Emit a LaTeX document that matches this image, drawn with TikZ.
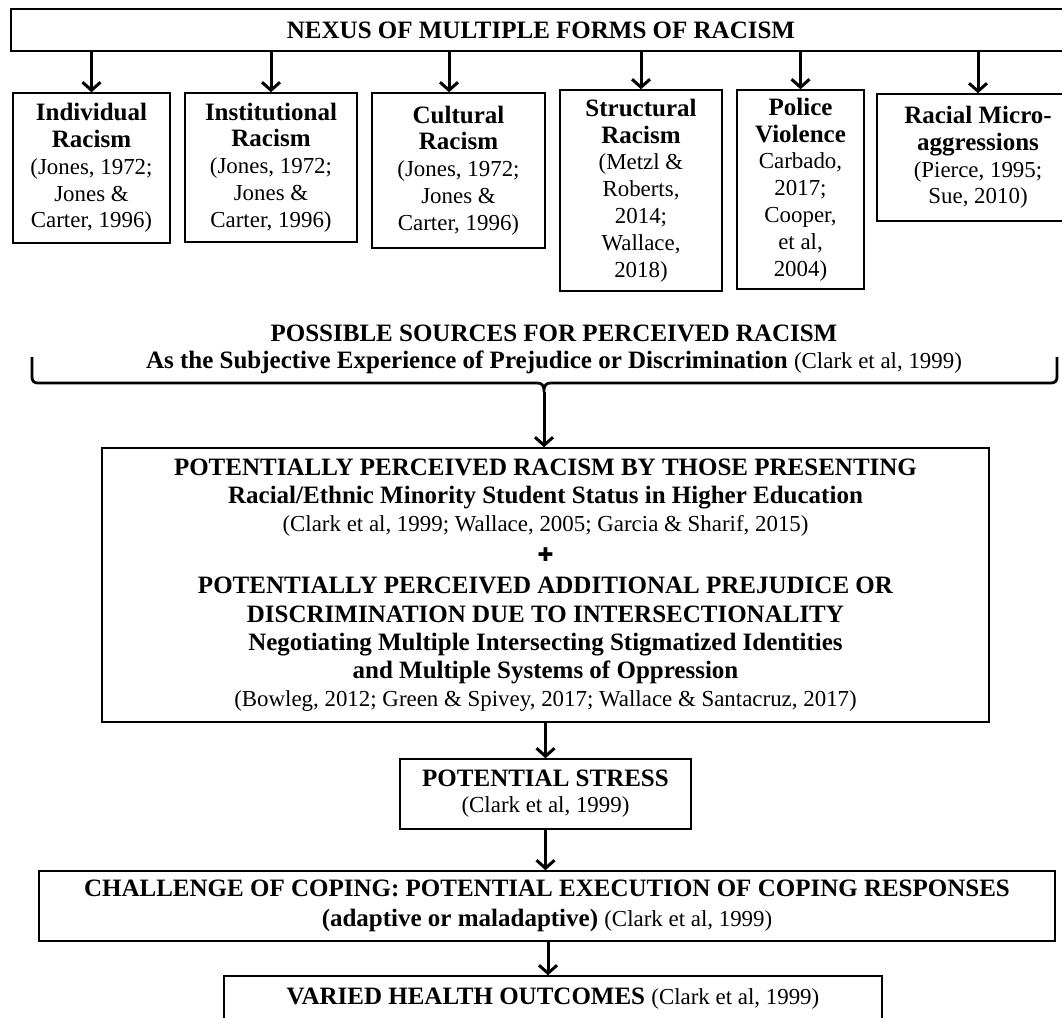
\documentclass[tikz,border=0pt]{standalone}
\usepackage{fontspec}
\setmainfont{Liberation Serif}
\newfontfamily\symf{DejaVu Sans}
\usetikzlibrary{arrows.meta}
\newcommand{\headf}{\fontsize{25}{30}\selectfont\bfseries}
\newcommand{\citef}{\fontsize{22.9}{27}\selectfont\mdseries}
\tikzset{stage/.style={draw,line width=1.5pt,align=center,inner sep=0pt,font=\fontsize{23}{26.8}\selectfont},
         flow/.style={-{Straight Barb[length=8pt,width=18pt]},line width=3pt}
}

\begin{document}
\begin{tikzpicture}[x=1pt,y=1pt,yscale=-1,xscale=1]
\useasboundingbox (0,0) rectangle (1062,1017);

%Flowchart: Process
\node[stage,minimum width=1060,minimum height=42] (nexus) at (541,30) {\headf NEXUS OF MULTIPLE FORMS OF RACISM};
%Flowchart: Process
\node[stage,minimum width=157,minimum height=150] (ind) at (91.5,168) {\headf Individual\\ \headf Racism\\ \citef (Jones, 1972;\\ \citef Jones \&\\ \citef Carter, 1996)};
%Flowchart: Process
\node[stage,minimum width=172,minimum height=149] (inst) at (271,167.5) {\headf Institutional\\ \headf Racism\\ \citef (Jones, 1972;\\ \citef Jones \&\\ \citef Carter, 1996)};
%Flowchart: Process
\node[stage,minimum width=173,minimum height=155] (cul) at (458.5,170.5) {\headf Cultural\\ \headf Racism\\ \citef (Jones, 1972;\\ \citef Jones \&\\ \citef Carter, 1996)};
%Flowchart: Process
\node[stage,minimum width=162,minimum height=201] (str) at (641,190.5) {\headf Structural\\ \headf Racism\\ \citef (Metzl \&\\ \citef Roberts,\\ \citef 2014;\\ \citef Wallace,\\ \citef 2018)};
%Flowchart: Process
\node[stage,minimum width=127,minimum height=199] (pol) at (800.5,189.5) {\headf Police\\ \headf Violence\\ \citef Carbado,\\ \citef 2017;\\ \citef Cooper,\\ \citef et al,\\ \citef 2004)};
%Flowchart: Process
\node[stage,minimum width=202,minimum height=127] (mic) at (978,157.5) {\headf Racial Micro-\\ \headf aggressions\\ \citef (Pierce, 1995;\\ \citef Sue, 2010)};

%Straight Lines
\coordinate (culin) at ([xshift=-9.5pt]cul.north);
\foreach \n in {ind,inst,culin,str,pol,mic}
  \draw[flow] (nexus.south -| \n) -- (\n.north);

% Text Node
\node[align=center,font=\fontsize{23}{27}\selectfont] (src) at (554,349) {\headf POSSIBLE SOURCES FOR PERCEIVED RACISM\\ \headf As the Subjective Experience of Prejudice or Discrimination {\citef (Clark et al, 1999)}};
%Shape: Brace
\draw[line width=2.8pt] (32,357) -- (32,377) .. controls (32,381) and (34,383) .. (38,383) -- (537,383) .. controls (542,383) and (544,385) .. (544,392) .. controls (544,385) and (546,383) .. (551,383) -- (1051,383) .. controls (1055,383) and (1057,381) .. (1057,377) -- (1057,357);
\coordinate (cusp) at (544,392);

%Flowchart: Process
\node[stage,minimum width=887,minimum height=274,font=\fontsize{23}{28.2}\selectfont] (mid) at (545.5,585) {\headf POTENTIALLY PERCEIVED RACISM BY THOSE PRESENTING\\ \headf Racial/Ethnic Minority Student Status in Higher Education\\ \citef (Clark et al, 1999; Wallace, 2005; Garcia \& Sharif, 2015)\\[2pt] \fontsize{19}{20}\selectfont\symf ✚\\[4pt] \headf POTENTIALLY PERCEIVED ADDITIONAL PREJUDICE OR\\ \headf DISCRIMINATION DUE TO INTERSECTIONALITY\\ \headf Negotiating Multiple Intersecting Stigmatized Identities\\ \headf and Multiple Systems of Oppression\\ \citef (Bowleg, 2012; Green \& Spivey, 2017; Wallace \& Santacruz, 2017)};
%Flowchart: Process
\node[stage,minimum width=291,minimum height=70,font=\fontsize{23}{26}\selectfont] (stress) at (545.5,794) {\headf POTENTIAL STRESS\\ \citef (Clark et al, 1999)};
%Flowchart: Process
\node[stage,minimum width=1016,minimum height=70,font=\fontsize{23}{30}\selectfont] (cope) at (547,906) {\headf CHALLENGE OF COPING: POTENTIAL EXECUTION OF COPING RESPONSES\\ \headf (adaptive or maladaptive) {\citef (Clark et al, 1999)}};
%Flowchart: Process
\node[stage,minimum width=658,minimum height=46] (health) at (553,999) {\headf VARIED HEALTH OUTCOMES {\citef (Clark et al, 1999)}};

%Straight Lines
\draw[flow] (cusp) -- (cusp |- mid.north);
\draw[flow] (mid.south) -- (stress.north);
\draw[flow] (stress.south) -- (stress.south |- cope.north);
\draw[flow] ([xshift=1pt]cope.south) -- ([xshift=1pt]cope.south |- health.north);

\end{tikzpicture}
\end{document}
